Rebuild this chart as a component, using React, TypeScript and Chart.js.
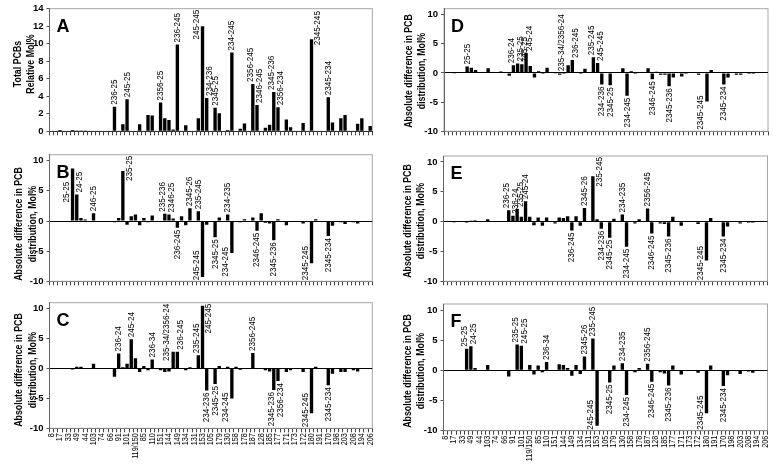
import React, { useEffect, useRef } from 'react';
import { Chart, registerables } from 'chart.js';

Chart.register(...registerables);

// ---------- DATA ----------
const tickLabels = ['8', '17', '33', '49', '44', '103', '74', '66', '91', '101', '119/150', '85', '110', '151', '144', '149', '134', '131', '153', '105', '179', '130', '158', '178', '187', '128', '185', '177', '171', '173', '172', '180', '191', '170', '198', '203', '208', '194', '206'];
// 77 congener categories; only every other one carries a printed tick label
const categories: string[] = [];
tickLabels.forEach((t, k) => { categories.push(t); if (k < tickLabels.length - 1) categories.push(''); });

const valuesA = [
  0, 0, 0.15, 0, 0, 0.15, 0.1, 0.1, 0.1, 0,
  0, 0, 0, 0, 0, 2.8, 0, 0.8, 3.65, 0,
  0, 0.8, 0, 1.85, 1.8, 0, 3.3, 1.5, 1.3, 0.2,
  9.9, 0, 0.7, 0, 0, 1.5, 12.0, 3.8, 0, 2.7,
  2.05, 0, 0.15, 9.0, 0, 0.3, 0.9, 0, 5.4, 3.0,
  0, 0.4, 0.75, 4.5, 2.75, 0, 1.35, 0.45, 0, 0,
  0.95, 0, 10.5, 0, 0, 0, 3.9, 1.0, 0, 1.5,
  1.85, 0, 0, 0.85, 1.5, 0, 0.6,
];
const valuesB = [
  0, 0, 0.1, 0, 0, 8.7, 4.4, 0.5, 0.25, 0,
  1.3, 0, 0, 0, 0, -0.2, 0.5, 8.3, -0.6, 0.8,
  1.1, -0.7, 0.5, -0.2, 0.9, 0, 0.1, 1.2, 1.1, 0.4,
  -1.1, 0.8, -0.7, 2.1, 0, 1.6, -9.3, -0.6, 0, -2.7,
  0.6, 0, 1.1, -5.3, 0.1, -0.2, 0.3, 0, 0.6, -1.6,
  1.3, -0.3, -0.4, -3.2, 0.3, 0, -0.7, -0.1, 0, 0,
  -0.4, 0, -7.0, 0.3, 0, 0, -2.5, -0.8, 0, -0.2,
  -0.5, 0, -0.2, -0.4, -0.1, -0.1, -0.1,
];
const valuesC = [
  0, 0, -0.1, 0, 0, -0.15, 0.3, 0.3, -0.1, 0,
  0.8, 0, 0, 0, 0, -1.4, 2.5, 0.2, 0.8, 4.9,
  1.7, -0.6, 0.4, -0.3, 1.5, 0, -0.3, -0.6, -0.5, 2.8,
  2.8, 0, -0.3, 0.2, 0, 2.2, 10.5, -3.7, 0, -2.6,
  0.4, 0, 0.3, -5.0, 0.3, -0.2, -0.1, 0, 2.6, -0.1,
  -0.1, -0.3, -0.5, -3.6, -2.1, 0, -0.6, -0.3, 0, 0,
  -0.6, 0, -7.5, 0.3, 0, 0, -2.8, -0.9, 0, -0.6,
  -0.6, 0, -0.3, -0.5, -0.1, -0.1, -0.1,
];
const valuesD = [
  0, 0, -0.05, 0, 0, 1.1, 0.9, 0.5, 0.1, 0,
  0.8, 0, 0, 0.25, 0, -0.5, 1.3, 1.6, 1.5, 3.4,
  1.2, -0.8, 0.3, -0.2, 0.9, 0, -0.05, -0.3, -0.2, 1.3,
  2.2, 0, -0.2, 0.7, 0, 2.7, 1.7, -2.0, 0, -2.1,
  0, 0, 0.8, -3.9, 0.3, -0.2, -0.1, 0, 0.8, -1.1,
  0.2, -0.3, -0.3, -2.3, -0.8, 0, -0.6, -0.2, 0, 0,
  -0.3, 0, -4.9, 0.5, 0, 0, -2.0, -0.8, 0, -0.3,
  -0.3, 0, -0.2, -0.2, -0.1, -0.1, -0.1,
];
const valuesE = [
  0, 0, -0.05, 0, 0, -0.2, 0.15, 0.2, -0.1, 0,
  0.4, 0, 0, 0, 0, 1.9, 1.0, 2.1, 0.8, 3.4,
  0.8, -0.6, 0.7, -0.7, 0.7, 0, -0.3, 0.7, 0.6, 0.9,
  -1.5, 0.9, -0.7, 2.3, 0, 7.6, 0.4, -1.2, 0, -2.7,
  0.5, 0, 1.2, -4.2, 0, -0.3, 0.4, 0, 2.2, -2.0,
  0, -0.3, -0.4, -2.5, 0.8, 0, -0.7, -0.1, 0, 0,
  -0.4, 0, -6.5, 0.6, 0, 0, -2.5, -0.8, 0, -0.1,
  -0.3, 0, -0.2, -0.2, -0.1, -0.1, -0.1,
];
const valuesF = [
  0, 0, -0.05, 0, 0, 3.6, 4.0, 0.4, 0, 0,
  0.9, 0, 0, 0, 0, -1.0, 0, 4.3, 4.1, 0,
  0.9, -0.7, 0.8, -0.3, 1.4, 0, 0, 1.0, 0.9, 0.4,
  -0.9, 0.9, -0.6, 2.3, 0, 5.3, -9.2, 0, 0, -2.0,
  0.8, 0, 1.2, -4.1, 0, -0.3, 0.4, 0, 1.1, -1.9,
  0.1, -0.3, -0.5, -2.5, 0.8, 0, -0.7, -0.1, 0, 0,
  -0.4, 0, -7.1, 0.8, 0, 0, -2.6, -0.8, 0, -0.1,
  -0.6, 0, -0.2, -0.4, -0.1, -0.1, -0.1,
];

type LabelSpec = [number, string];
const labelsA: LabelSpec[] = [[15, '236-25'], [18, '245-25'], [26, '2356-25'], [30, '236-245'], [36, '245-245'], [37, '234-236'], [39, '2345-25'], [43, '234-245'], [48, '2356-245'], [49, '2346-245'], [53, '2345-236'], [54, '2356-234'], [62, '2345-245'], [66, '2345-234']];
const labelsB: LabelSpec[] = [[5, '25-25'], [6, '24-25'], [10, '246-25'], [17, '235-25'], [27, '235-236'], [28, '2346-25'], [30, '236-245'], [33, '2345-26'], [35, '235-245'], [36, '245-245'], [39, '2345-25'], [42, '234-235'], [43, '234-245'], [49, '2346-245'], [53, '2345-236'], [62, '2345-245'], [66, '2345-234']];
const labelsC: LabelSpec[] = [[16, '236-24'], [19, '245-24'], [24, '236-34'], [29, '235-34/2356-24'], [30, '236-245'], [35, '235-245'], [36, '245-245'], [37, '234-236'], [39, '2345-25'], [43, '234-245'], [48, '2356-245'], [53, '2345-236'], [54, '2356-234'], [62, '2345-245'], [66, '2345-234']];
const labelsD: LabelSpec[] = [[5, '25-25'], [16, '236-24'], [17, '235-25'], [18, '245-25'], [19, '245-24'], [29, '235-34/2356-24'], [30, '236-245'], [35, '235-245'], [36, '245-245'], [37, '234-236'], [39, '2345-25'], [43, '234-245'], [49, '2346-245'], [53, '2345-236'], [62, '2345-245'], [66, '2345-234']];
const labelsE: LabelSpec[] = [[15, '236-25'], [16, '236-24'], [17, '235-25'], [19, '245-24'], [30, '236-245'], [33, '2345-26'], [35, '235-245'], [37, '234-236'], [39, '2345-25'], [42, '234-235'], [43, '234-245'], [48, '2356-245'], [49, '2346-245'], [53, '2345-236'], [62, '2345-245'], [66, '2345-234']];
const labelsF: LabelSpec[] = [[5, '25-25'], [6, '24-25'], [17, '235-25'], [18, '245-25'], [24, '236-34'], [33, '2345-26'], [35, '235-245'], [36, '245-245'], [39, '2345-25'], [42, '234-235'], [43, '234-245'], [48, '2356-245'], [49, '2346-245'], [53, '2345-236'], [62, '2345-245'], [66, '2345-234']];

const titleTotal = ['Total PCBs', 'Relative Mol%'];
const titleDiff = ['Absolute difference in PCB', 'distribution, Mol%'];
const ticksTotal = [0, 2, 4, 6, 8, 10, 12, 14];
const ticksDiff = [-10, -5, 0, 5, 10];

// ---------- LAYOUT ----------
const SANS = '"Liberation Sans", Arial, sans-serif';

interface PanelDef {
  letter: string;
  values: number[];
  labels: LabelSpec[];
  canvas: { x: number; y: number; w: number; h: number };
  plot: { l: number; t: number; r: number; b: number };
  yMin: number; yMax: number; yTicks: number[];
  title: string[]; titleX: [number, number]; titleCY: number;
  showX: boolean;
}

const panels: PanelDef[] = [
  { letter: 'A', values: valuesA, labels: labelsA, canvas: { x: 0, y: 0, w: 380, h: 140 }, plot: { l: 49.5, t: 7.3, r: 372.3, b: 133.3 }, yMin: 0, yMax: 14, yTicks: ticksTotal, title: titleTotal, titleX: [18, 31], titleCY: 64, showX: false },
  { letter: 'B', values: valuesB, labels: labelsB, canvas: { x: 0, y: 140, w: 380, h: 150 }, plot: { l: 49.5, t: 154.7, r: 372.3, b: 281.3 }, yMin: -10, yMax: 11, yTicks: ticksDiff, title: titleDiff, titleX: [19.5, 33], titleCY: 224, showX: false },
  { letter: 'C', values: valuesC, labels: labelsC, canvas: { x: 0, y: 290, w: 380, h: 184 }, plot: { l: 49.5, t: 302.7, r: 372.3, b: 428.3 }, yMin: -10, yMax: 11, yTicks: ticksDiff, title: titleDiff, titleX: [19.5, 33], titleCY: 370, showX: true },
  { letter: 'D', values: valuesD, labels: labelsD, canvas: { x: 380, y: 0, w: 393, h: 140 }, plot: { l: 444, t: 6, r: 768, b: 133.3 }, yMin: -10, yMax: 11, yTicks: ticksDiff, title: titleDiff, titleX: [409, 422], titleCY: 71, showX: false },
  { letter: 'E', values: valuesE, labels: labelsE, canvas: { x: 380, y: 140, w: 393, h: 150 }, plot: { l: 443.5, t: 156, r: 767.5, b: 282.7 }, yMin: -10, yMax: 11, yTicks: ticksDiff, title: titleDiff, titleX: [408.5, 421.5], titleCY: 221, showX: false },
  { letter: 'F', values: valuesF, labels: labelsF, canvas: { x: 380, y: 290, w: 393, h: 184 }, plot: { l: 443.5, t: 304, r: 767.5, b: 430.7 }, yMin: -10, yMax: 11, yTicks: ticksDiff, title: titleDiff, titleX: [408.5, 421.5], titleCY: 371, showX: true },
];

// draw rotated (bottom-to-top) text, condensed along its reading direction
function vText(ctx: CanvasRenderingContext2D, text: string, x: number, y: number, align: CanvasTextAlign, squeeze: number) {
  ctx.save();
  ctx.translate(x, y);
  ctx.rotate(-Math.PI / 2);
  ctx.scale(squeeze, 1);
  ctx.textAlign = align;
  ctx.fillText(text, 0, 0);
  ctx.restore();
}

const LABEL_FONT = 9;
const LABEL_SQ = 0.9;

function makeOverlay(p: PanelDef) {
  return {
    id: 'overlay' + p.letter,
    beforeDraw(chart: any) {
      const { ctx, chartArea: a } = chart;
      ctx.save();
      ctx.strokeStyle = '#a6a6a6';
      ctx.lineWidth = 1;
      ctx.strokeRect(a.left, a.top, a.right - a.left, a.bottom - a.top);
      ctx.restore();
    },
    afterDraw(chart: any) {
      const { ctx, chartArea: a } = chart;
      const ox = p.canvas.x, oy = p.canvas.y;
      ctx.save();
      ctx.fillStyle = '#000';
      // panel letter
      ctx.font = `bold 18px ${SANS}`;
      ctx.textAlign = 'left';
      ctx.textBaseline = 'alphabetic';
      ctx.fillText(p.letter, a.left + 7, a.top + 23);
      // axis title
      ctx.font = `bold 10.5px ${SANS}`;
      ctx.textBaseline = 'middle';
      p.title.forEach((line, k) => vText(ctx, line, p.titleX[k] - ox, p.titleCY - oy, 'center', 0.84));
      // x tick labels
      if (p.showX) {
        const xs = chart.scales.x;
        ctx.font = `8.6px ${SANS}`;
        ctx.textBaseline = 'middle';
        categories.forEach((c, i) => {
          if (!c) return;
          vText(ctx, c, xs.getPixelForValue(i), a.bottom + 5, 'right', 0.84);
        });
      }
      // bar labels
      const meta = chart.getDatasetMeta(0);
      ctx.font = `${LABEL_FONT}px ${SANS}`;
      ctx.textBaseline = 'middle';
      const labelled = new Set(p.labels.map((l) => l[0]));
      const sameSide = (j: number, v: number) => labelled.has(j) && (p.values[j] >= 0) === (v >= 0);
      for (const [i, text] of p.labels) {
        const el: any = meta.data[i];
        const v = p.values[i];
        const w = ctx.measureText(text).width * LABEL_SQ;
        const half = el.width / 2;
        let x = el.x;
        if (sameSide(i - 1, v)) x += 3;
        else if (sameSide(i + 1, v)) x -= 2;
        let y: number;
        let align: CanvasTextAlign;
        if (v >= 0) {
          const top = el.y;
          align = 'left';
          if (top - 2 - w >= a.top + 1) {
            y = top - 2;
          } else {
            const nextPos = sameSide(i + 1, v);
            x = el.x + (nextPos ? -1 : 1) * (half + 4.5);
            y = Math.max(a.top + 1 + w, top + 6);
            // keep clear of the panel letter
            if (x < a.left + 24) y = Math.max(y, a.top + 27 + w);
          }
        } else {
          const bot = el.y;
          align = 'right';
          if (bot + 2 + w <= a.bottom - 1) {
            y = bot + 2;
          } else {
            x = el.x - (half + 4.5);
            y = Math.min(a.bottom - 1 - w, bot - 6);
          }
        }
        vText(ctx, text, x, y, align, LABEL_SQ);
      }
      ctx.restore();
    },
  };
}

function Panel({ p }: { p: PanelDef }) {
  const ref = useRef<HTMLCanvasElement | null>(null);
  useEffect(() => {
    if (!ref.current) return;
    const padTop = p.plot.t - p.canvas.y;
    const padRight = p.canvas.x + p.canvas.w - p.plot.r;
    const yW = p.plot.l - p.canvas.x;
    const xH = p.canvas.y + p.canvas.h - p.plot.b;
    const chart = new Chart(ref.current, {
      type: 'bar',
      data: {
        labels: categories,
        datasets: [{
          data: p.values,
          backgroundColor: '#000',
          borderWidth: 0,
          barPercentage: 0.8,
          categoryPercentage: 1,
        }],
      },
      options: {
        animation: false,
        responsive: false,
        maintainAspectRatio: false,
        devicePixelRatio: 1,
        layout: { padding: { top: padTop, right: padRight, left: 0, bottom: 0 } },
        plugins: { legend: { display: false }, tooltip: { enabled: false }, title: { display: false } },
        scales: {
          x: {
            type: 'category',
            offset: true,
            grid: { offset: true, drawOnChartArea: false, drawTicks: true, tickLength: 4, color: '#444', tickColor: '#444' },
            border: { display: true, color: p.yMin < 0 ? '#888' : '#333' },
            ticks: { display: false, autoSkip: false },
            afterFit: (s: any) => { s.height = xH; },
          },
          y: {
            min: p.yMin,
            max: p.yMax,
            afterBuildTicks: (s: any) => { s.ticks = p.yTicks.map((v) => ({ value: v })); },
            ticks: { color: '#000', font: { family: SANS, size: 9.5, weight: 'bold' }, padding: 3 },
            grid: {
              drawTicks: true,
              tickLength: 3,
              tickColor: '#555',
              color: (c: any) => (c.tick && c.tick.value === 0 && p.yMin < 0 ? '#000' : 'rgba(0,0,0,0)'),
            },
            border: { display: true, color: '#666' },
            afterFit: (s: any) => { s.width = yW; },
          },
        },
      } as any,
      plugins: [makeOverlay(p)],
    });
    return () => chart.destroy();
  }, [p]);
  return (
    <canvas
      ref={ref}
      width={p.canvas.w}
      height={p.canvas.h}
      style={{ position: 'absolute', left: p.canvas.x, top: p.canvas.y, width: p.canvas.w, height: p.canvas.h }}
    />
  );
}

export default function App() {
  return (
    <div style={{ position: 'absolute', left: 0, top: 0, width: 773, height: 474, background: '#fff', overflow: 'hidden' }}>
      {panels.map((p) => <Panel key={p.letter} p={p} />)}
    </div>
  );
}
